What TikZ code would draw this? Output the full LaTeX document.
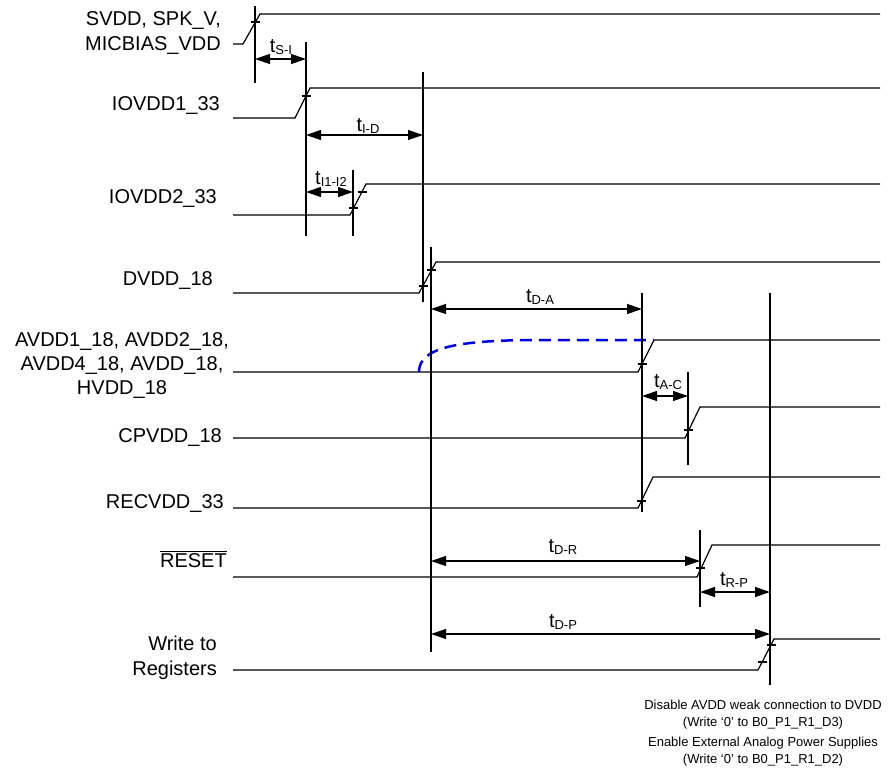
\documentclass[tikz,border=0pt]{standalone}
\usepackage{fontspec}
\setmainfont{Liberation Sans}
\usetikzlibrary{arrows.meta}
\newcommand{\tlab}[1]{t\raisebox{-2pt}{\fontsize{13}{14}\selectfont #1}}
\begin{document}
\begin{tikzpicture}[x=1pt,y=-1pt,
  sig/.style={line width=1.2pt,line join=miter},
  guide/.style={line width=1.1pt},
  tick/.style={line width=1.1pt},
  dim/.style={line width=1.1pt,{Triangle[length=15pt,width=10pt]}-{Triangle[length=15pt,width=10pt]}},
  lbl/.style={font=\fontsize{20}{25}\selectfont, inner sep=0pt},
  tl/.style={font=\fontsize{20}{24}\selectfont, inner sep=0pt, anchor=base},
  note/.style={font=\fontsize{13}{17.5}\selectfont, align=center, inner sep=0pt, anchor=north},
  weak/.style={line width=2.5pt, draw={rgb,255:red,0;green,0;blue,230}, dash pattern=on 12pt off 7pt}]
\useasboundingbox (0,0) rectangle (896,771);

% ---------- signal labels ----------
\node[lbl, anchor=north east, align=right] (lS) at (221,11.4) {SVDD, SPK\_V,\\MICBIAS\_VDD};
\node[lbl, anchor=base east] (lI1) at (220,110) {IOVDD1\_33};
\node[lbl, anchor=base east] (lI2) at (217,203) {IOVDD2\_33};
\node[lbl, anchor=base east] (lD) at (213,285) {DVDD\_18};
\node[lbl, anchor=north, align=center, font=\fontsize{20}{24}\selectfont] (lA) at (122,332.4) {AVDD1\_18, AVDD2\_18,\\AVDD4\_18, AVDD\_18,\\HVDD\_18};
\node[lbl, anchor=base east] (lC) at (222,442) {CPVDD\_18};
\node[lbl, anchor=base east] (lR) at (224,508) {RECVDD\_33};
\node[lbl, anchor=base east] (lRst) at (227,567) {$\overline{\hbox{RESET}}$};
\node[lbl, anchor=north east, align=right] (lW) at (217,635.4) {Write to\\Registers};

% ---------- waveforms ----------
\draw[sig] (233,44) coordinate (w1a) -- (243,44) coordinate (w1b) -- (260,14) coordinate (w1c) -- (880,14) coordinate (w1d);
\draw[sig] (233,118) coordinate (w2a) -- (295,118) coordinate (w2b) -- (310,88) coordinate (w2c) -- (880,88) coordinate (w2d);
\draw[sig] (233,215) coordinate (w3a) -- (350,215) coordinate (w3b) -- (366,184) coordinate (w3c) -- (880,184) coordinate (w3d);
\draw[sig] (233,293) coordinate (w4a) -- (419,293) coordinate (w4b) -- (436,262) coordinate (w4c) -- (880,262) coordinate (w4d);
\draw[sig] (233,372) coordinate (w5a) -- (638,372) coordinate (w5b) -- (654,340) coordinate (w5c) -- (880,340) coordinate (w5d);
\draw[sig] (233,438) coordinate (w6a) -- (685,438) coordinate (w6b) -- (700,407) coordinate (w6c) -- (880,407) coordinate (w6d);
\draw[sig] (233,508) coordinate (w7a) -- (638,508) coordinate (w7b) -- (653,477) coordinate (w7c) -- (880,477) coordinate (w7d);
\draw[sig] (233,577) coordinate (w8a) -- (697,577) coordinate (w8b) -- (712,545) coordinate (w8c) -- (880,545) coordinate (w8d);
\draw[sig] (233,670) coordinate (w9a) -- (758,670) coordinate (w9b) -- (774,639) coordinate (w9c) -- (880,639) coordinate (w9d);

% weak AVDD connection (dashed blue)
\draw[weak] (w4b |- w5b) .. controls (419,348) and (455,340) .. (540,340) -- (w5c);

% ---------- guide lines ----------
\coordinate (g1t) at (255,6);   \coordinate (g1b) at (255,83);
\coordinate (g2t) at (306,42);  \coordinate (g2b) at (306,236);
\coordinate (g3t) at (353,170); \coordinate (g3b) at (353,236);
\coordinate (g4t) at (423,72);  \coordinate (g4b) at (423,302);
\coordinate (g5t) at (431,247); \coordinate (g5b) at (431,652);
\coordinate (g6t) at (642,293); \coordinate (g6b) at (642,512);
\coordinate (g7t) at (688,372); \coordinate (g7b) at (688,465);
\coordinate (g8t) at (700,530); \coordinate (g8b) at (700,607);
\coordinate (g9t) at (770,293); \coordinate (g9b) at (770,685);
\foreach \g in {1,...,9} {\draw[guide] (g\g t) -- (g\g b);}

% ---------- tick marks ----------
\foreach \x/\y in {255/22, 306/96, 353/208, 362/192, 423/286, 431/270, 642/364, 688/430, 641/501, 700/568, 762/662, 771/645}
  {\draw[tick] (\x-4.5,\y) -- (\x+4.5,\y);}

% ---------- timing arrows ----------
\draw[dim] (g1t |- 0,59)  -- (g2t |- 0,59);
\draw[dim] (g2t |- 0,135) -- (g4t |- 0,135);
\draw[dim] (g2t |- 0,192) -- (g3t |- 0,192);
\draw[dim] (g5t |- 0,309) -- (g6t |- 0,309);
\draw[dim] (g6t |- 0,396) -- (g7t |- 0,396);
\draw[dim] (g5t |- 0,561) -- (g8t |- 0,561);
\draw[dim] (g8t |- 0,592) -- (g9t |- 0,592);
\draw[dim] (g5t |- 0,634) -- (g9t |- 0,634);

\node[tl] (tSI)   at (281,52)  {\tlab{S-I}};
\node[tl] (tID)   at (368,131) {\tlab{I-D}};
\node[tl] (tI1I2) at (331,184) {\tlab{I1-I2}};
\node[tl] (tDA)   at (540,302) {\tlab{D-A}};
\node[tl] (tAC)   at (668,387) {\tlab{A-C}};
\node[tl] (tDR)   at (563,552) {\tlab{D-R}};
\node[tl] (tRP)   at (734,585) {\tlab{R-P}};
\node[tl] (tDP)   at (563,627) {\tlab{D-P}};

% ---------- notes ----------
\node[note] (n1) at (763,699.5) {Disable AVDD weak connection to DVDD\\(Write ‘0’ to B0\_P1\_R1\_D3)};
\node[note] (n2) at (763,736.5) {Enable External Analog Power Supplies\\(Write ‘0’ to B0\_P1\_R1\_D2)};
\end{tikzpicture}
\end{document}
